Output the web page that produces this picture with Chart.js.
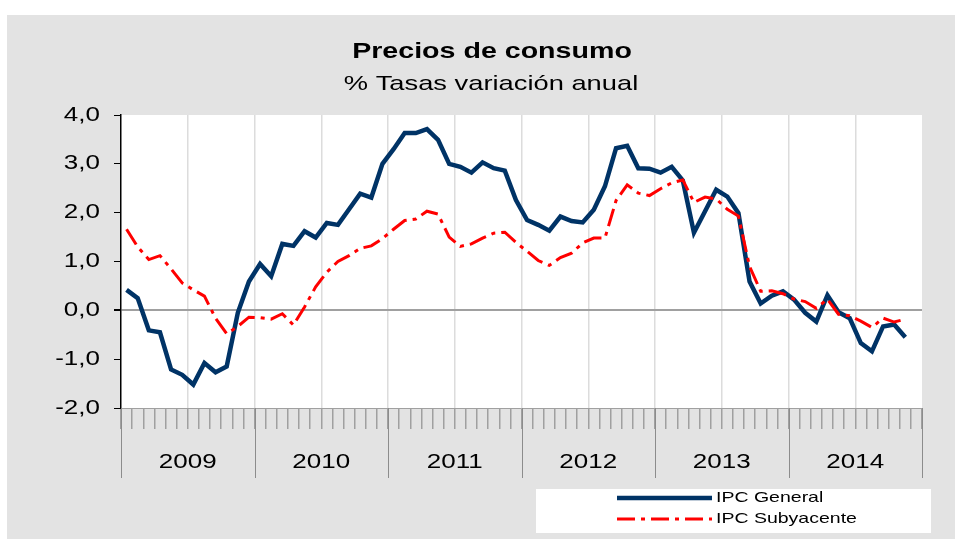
<!DOCTYPE html>
<html lang="es">
<head>
<meta charset="UTF-8">
<title>Precios de consumo</title>
<style>body{margin:0;background:#fff}</style>
</head>
<body>
<canvas id="grafico" width="961" height="539"></canvas>

<script src="https://cdn.jsdelivr.net/npm/chart.js"></script>

<script>
const anios = ['2009', '2010', '2011', '2012', '2013', '2014']
const nombresMes = ['ene', 'feb', 'mar', 'abr', 'may', 'jun', 'jul', 'ago', 'sep', 'oct', 'nov', 'dic']
const meses = anios.flatMap(a => nombresMes.map(m => m + '-' + a.slice(2)))

// ene-2009 .. nov-2014
const ipcGeneral = [
  0.42, 0.25, -0.41, -0.45, -1.21, -1.32, -1.52, -1.08, -1.27, -1.15, -0.05, 0.59,
  0.95, 0.70, 1.36, 1.32, 1.62, 1.49, 1.79, 1.75, 2.07, 2.39, 2.31, 3.00,
  3.30, 3.63, 3.63, 3.71, 3.49, 3.00, 2.94, 2.82, 3.03, 2.91, 2.86, 2.26,
  1.85, 1.75, 1.63, 1.92, 1.83, 1.80, 2.06, 2.54, 3.32, 3.37, 2.91, 2.90,
  2.82, 2.94, 2.66, 1.59, 2.03, 2.47, 2.33, 1.99, 0.59, 0.14, 0.30, 0.39,
  0.22, -0.05, -0.23, 0.31, -0.04, -0.16, -0.67, -0.84, -0.33, -0.29, -0.55
]
const ipcSubyacente = [
  1.66, 1.30, 1.04, 1.12, 0.85, 0.56, 0.42, 0.29, -0.16, -0.48, -0.33, -0.14,
  -0.15, -0.18, -0.07, -0.30, 0.07, 0.48, 0.78, 1.00, 1.12, 1.27, 1.32, 1.47,
  1.66, 1.84, 1.87, 2.03, 1.97, 1.50, 1.31, 1.36, 1.48, 1.58, 1.60, 1.39,
  1.21, 1.02, 0.92, 1.08, 1.17, 1.38, 1.48, 1.48, 2.25, 2.57, 2.40, 2.35,
  2.49, 2.61, 2.67, 2.21, 2.32, 2.28, 2.07, 1.93, 0.90, 0.39, 0.40, 0.34,
  0.23, 0.18, 0.04, 0.23, -0.08, -0.11, -0.22, -0.35, -0.16, -0.24, -0.18
]

const titulo = 'Precios de consumo'
const subtitulo = '% Tasas variación anual'
const FUENTE = '"Liberation Sans", Arial, sans-serif'
const ESTIRA = 1.3   // el original tiene el texto ensanchado

let texto = (ctx, s, x, y, font, align) => {
  ctx.save()
  ctx.font = font
  ctx.fillStyle = '#000'
  ctx.textAlign = align
  ctx.textBaseline = 'middle'
  ctx.translate(x, y)
  ctx.scale(ESTIRA, 1)
  ctx.fillText(s, 0, 0)
  ctx.restore()
}

const marco = {
  id: 'marco',
  beforeDraw(chart) {
    const ctx = chart.ctx
    const a = chart.chartArea
    ctx.save()
    ctx.fillStyle = '#fff'
    ctx.fillRect(0, 0, chart.width, chart.height)
    ctx.fillStyle = '#e3e3e3'
    ctx.fillRect(7, 15, 948, 524)
    ctx.fillStyle = '#fff'
    ctx.fillRect(a.left, a.top, a.right - a.left, a.bottom - a.top)
    ctx.restore()
  },
  afterDraw(chart) {
    const ctx = chart.ctx
    const a = chart.chartArea
    const xs = chart.scales.x
    const ys = chart.scales.y

    // etiquetas eje Y
    ys.ticks.forEach(t => {
      texto(ctx, t.value.toFixed(1).replace('.', ','), 100, ys.getPixelForValue(t.value),
        '20px ' + FUENTE, 'right')
    })

    // separadores y etiquetas de años
    const paso = xs.getPixelForValue(1) - xs.getPixelForValue(0)
    ctx.save()
    ctx.strokeStyle = '#8c8c8c'
    ctx.lineWidth = 1
    for (let k = 0; k <= anios.length; k++) {
      const x = Math.round(xs.getPixelForValue(k * 12) - paso / 2) + 0.5
      ctx.beginPath()
      ctx.moveTo(x, a.bottom)
      ctx.lineTo(x, 478)
      ctx.stroke()
    }
    ctx.restore()
    anios.forEach((an, k) => {
      const x = (xs.getPixelForValue(k * 12) + xs.getPixelForValue(k * 12 + 11)) / 2
      texto(ctx, an, x, 462, '20px ' + FUENTE, 'center')
    })

    // título
    texto(ctx, titulo, 492, 52, 'bold 22px ' + FUENTE, 'center')
    texto(ctx, subtitulo, 491, 84, '21px ' + FUENTE, 'center')

    // leyenda
    ctx.save()
    ctx.fillStyle = '#fff'
    ctx.fillRect(536, 489, 395, 44)
    const filas = [498, 519]
    chart.data.datasets.slice().sort((p, q) => p.leyenda - q.leyenda).forEach((ds, i) => {
      ctx.save()
      ctx.strokeStyle = ds.borderColor
      ctx.lineWidth = ds.borderWidth
      ctx.setLineDash(ds.borderDash || [])
      ctx.beginPath()
      ctx.moveTo(617, filas[i])
      ctx.lineTo(712, filas[i])
      ctx.stroke()
      ctx.restore()
      texto(ctx, ds.label, 716, filas[i], '15px ' + FUENTE, 'left')
    })
    ctx.restore()
  }
}

const grafico = new Chart(document.getElementById('grafico'), {
  type: 'line',
  data: {
    labels: meses,
    datasets: [
      {
        label: 'IPC General',
        data: ipcGeneral,
        borderColor: '#003366',
        borderWidth: 4.5,
        pointRadius: 0,
        tension: 0,
        order: 1,
        leyenda: 0
      },
      {
        label: 'IPC Subyacente',
        data: ipcSubyacente,
        borderColor: '#ff0000',
        borderWidth: 3,
        borderDash: [18, 6, 4, 6],
        pointRadius: 0,
        tension: 0,
        order: 0,
        leyenda: 1
      }
    ]
  },
  options: {
    responsive: false,
    animation: false,
    layout: { padding: { left: 0, right: 39, top: 115, bottom: 0 } },
    plugins: {
      legend: { display: false },
      tooltip: { enabled: false }
    },
    scales: {
      x: {
        offset: true,
        grid: {
          offset: true,
          color: c => (c.index % 6 === 0 && c.index > 0 && c.index < meses.length) ? '#dcdcdc' : 'rgba(0,0,0,0)',
          lineWidth: 1.5,
          tickColor: '#a0a0a0',
          tickLength: 21
        },
        border: { display: true, color: '#a0a0a0', width: 1 },
        ticks: { display: false },
        afterFit: s => { s.height = 131 }
      },
      y: {
        min: -2,
        max: 4,
        ticks: { display: false, stepSize: 1 },
        grid: {
          color: c => (c.tick && c.tick.value === 0) ? '#a0a0a0' : 'rgba(0,0,0,0)',
          lineWidth: c => (c.tick && c.tick.value === 0) ? 2 : 1,
          tickColor: '#000',
          tickLength: 7
        },
        border: { display: true, color: '#000', width: 1.5 },
        afterFit: s => { s.width = 121 }
      }
    }
  },
  plugins: [marco]
})
</script>
</body>
</html>
